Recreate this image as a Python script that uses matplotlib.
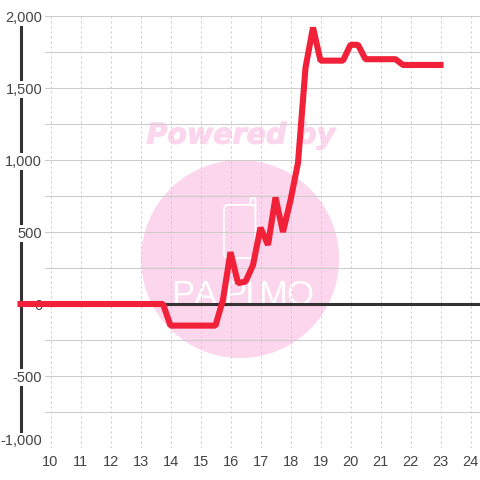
import numpy as np
import matplotlib
matplotlib.use("Agg")
import matplotlib.pyplot as plt
from matplotlib.patches import Ellipse, FancyBboxPatch
import matplotlib.patheffects as pe

plt.rcParams['font.family'] = ['Liberation Sans', 'DejaVu Sans']

# quarter hour readings
hours = [9, 13.75, 14, 15.5, 15.75, 16, 16.25, 16.5, 16.75, 17, 17.25, 17.5, 17.75,
         18, 18.25, 18.5, 18.75, 19, 19.75, 20, 20.25, 20.5, 21.5, 21.75, 23]
values = [0, 0, -150, -150, 30, 360, 145, 155, 270, 530, 410, 740, 500,
          720, 980, 1640, 1920, 1690, 1690, 1800, 1800, 1700, 1700, 1660, 1660]
x_ticks = list(range(10, 25))
y_ticks = [-1000, -500, 0, 500, 1000, 1500, 2000]
y_grid = [-750, -250, 250, 750, 1250, 1750]
logo_letters = ['P', 'A', 'P', 'I', 'M', 'O']
logo_hours = [14.41, 15.18, 16.15, 16.65, 17.42, 18.32]

fig = plt.figure(figsize=(4.8, 4.8), dpi=100)
# axes spans x px 45-480, y px 16-448
ax = fig.add_axes([45/480, 32/480, 435/480, 432/480])
ax.set_xlim(10 - 5.5/30, 10 + 429.5/30)
ax.set_ylim(-1000, 2000)
for s in ax.spines.values():
    s.set_visible(False)
ax.set_axisbelow(True)

ax.set_xticks(x_ticks)
ax.set_yticks(y_ticks)
ax.set_yticks(y_grid, minor=True)
ax.set_yticklabels(['{:,}'.format(v) for v in y_ticks])
ax.grid(True, axis='y', which='both', color='#cccccc', lw=0.75)
ax.grid(True, axis='x', color='#cccccc', lw=0.75, ls=(0, (2, 2.8)))
ax.tick_params(axis='both', which='both', length=0, labelsize=10.5, labelcolor='#444444')
ax.tick_params(axis='y', pad=2)
ax.tick_params(axis='x', pad=5)
for lab in ax.get_yticklabels():
    lab.set_bbox(dict(facecolor='white', edgecolor='none', pad=1))
# bottom label sits above its grid line
ax.get_yticklabels()[0].set_verticalalignment('bottom')

# axis line at the left, runs behind the labels
ax.plot([9, 9], [-990, 1945], color='#333333', lw=2.2, clip_on=False, zorder=0.1, solid_capstyle='butt')

# watermark
pink = '#fbd6ed'
ax.add_patch(Ellipse((16.32, 312), 6.6, 1375, facecolor=pink, edgecolor='none', zorder=0.2))
ax.add_patch(FancyBboxPatch((15.78, 320), 1.05, 368, boxstyle='round,pad=0,rounding_size=0.15',
                            mutation_aspect=208, facecolor='none', edgecolor='white', lw=1.3, zorder=0.3))
ax.plot([16.65, 16.68, 16.83, 16.83], [688, 735, 735, 650], color='white', lw=1.3, zorder=0.3)
ax.text(16.35, 1170, 'Powered by', color=pink, fontsize=20.5, fontweight='bold', fontstyle='italic',
        family='DejaVu Sans', ha='center', va='center', zorder=0.3,
        path_effects=[pe.withStroke(linewidth=0.8, foreground=pink)])
for letter, h in zip(logo_letters, logo_hours):
    ax.text(h, -8, letter, color='white', fontsize=25, ha='center', va='baseline', zorder=0.3)

ax.axhline(0, color='#333333', lw=2.2, zorder=2)
ax.plot(hours, values, color='#f02139', lw=4.4, clip_on=False, zorder=3, solid_joinstyle='bevel')

fig.savefig('out.png', dpi=100, facecolor='white')
